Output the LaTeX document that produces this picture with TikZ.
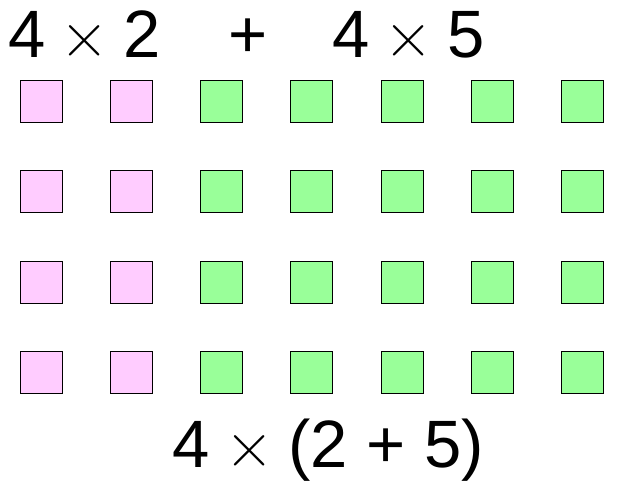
\documentclass[tikz,border=0pt]{standalone}
\usepackage{fontspec}
\setmainfont{Liberation Sans}
\newfontfamily\lmfont{Latin Modern Roman}
\usetikzlibrary{positioning}

\definecolor{pinkfill}{HTML}{FFCCFF}
\definecolor{greenfill}{HTML}{99FF99}
\newcommand{\tms}{\kern-3.5pt{\lmfont ×}\kern-3.5pt}
\tikzset{
	sq/.style={draw=black,line width=1pt,minimum size=42pt,inner sep=0pt},
	big/.style={inner sep=0pt,font=\fontsize{67}{80}\selectfont}
}

\begin{document}
\begin{tikzpicture}[x=1pt,y=-1pt]
	\useasboundingbox (0,0) rectangle (622,492);
	\node [big,anchor=base west] (left) at (8,58) {4 \tms{} 2};
	\node [big,anchor=base] (plus) at (248,58) {+};
	\node [big,anchor=base west] (right) at (332,58) {4 \tms{} 5};
	\foreach \r in {0,...,3}{
		\foreach \c in {0,1}
			\node [sq,fill=pinkfill] (sq-\r-\c) at (41+90.3*\c,101.5+90.3*\r) {};
		\foreach \c in {2,...,6}
			\node [sq,fill=greenfill] (sq-\r-\c) at (41+90.3*\c,101.5+90.3*\r) {};
	}
	\node [big,anchor=base] (total) at (328.5,467) {4 \tms{} (2 + 5)};
\end{tikzpicture}
\end{document}
